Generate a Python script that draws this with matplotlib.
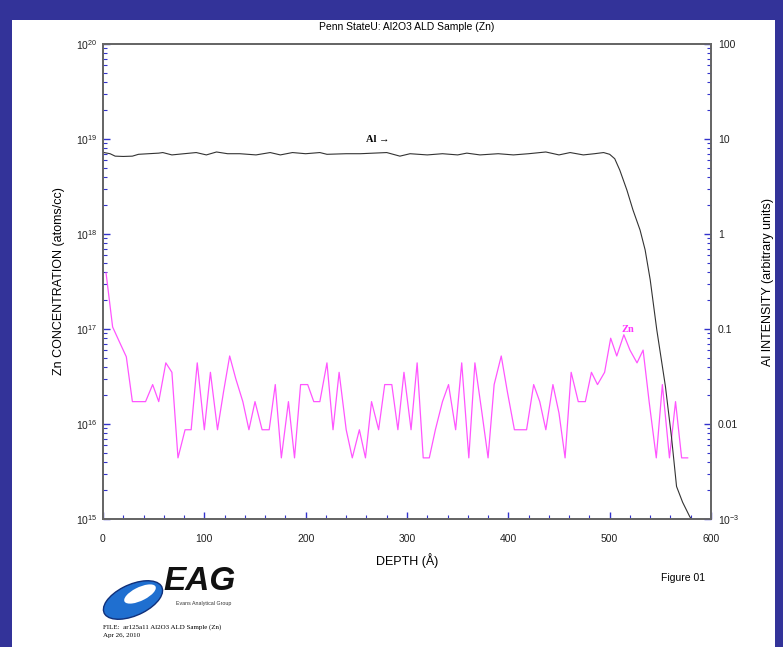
import numpy as np
import matplotlib
matplotlib.use('Agg')
import matplotlib.pyplot as plt
from matplotlib.patches import Rectangle, Ellipse
from matplotlib.ticker import LogLocator, NullFormatter, MultipleLocator

plt.rcParams['font.family'] = ['Liberation Sans', 'DejaVu Sans']
plt.rcParams['mathtext.fontset'] = 'custom'
plt.rcParams['mathtext.rm'] = 'Liberation Sans'
plt.rcParams['mathtext.it'] = 'Liberation Sans:italic'
plt.rcParams['mathtext.bf'] = 'Liberation Sans:bold'

# Zn concentration profile (atoms/cc) vs depth (A)
zn_depth = [3, 9.5, 16, 23, 29, 36, 42, 49, 55, 62, 68, 74, 81, 87, 93, 100,
            106, 113, 119, 125, 131, 138, 144, 150, 157, 164, 170, 176, 183,
            189, 195, 202, 208, 214, 221, 227, 233, 240, 246, 253, 259, 265,
            272, 278, 285, 291, 297, 304, 310, 316, 322, 328, 335, 341, 348,
            354, 361, 367, 374, 380, 386, 393, 399, 406, 412, 418, 425, 431,
            437, 444, 450, 456, 462, 469, 476, 482, 488, 495, 501, 507, 514,
            520, 527, 533, 539, 546, 552, 559, 565, 571, 577]
zn_conc = [3.9e17, 1.05e17, 7.4e16, 5.1e16, 1.72e16, 1.72e16, 1.72e16, 2.6e16,
           1.72e16, 4.4e16, 3.5e16, 4.4e15, 8.7e15, 8.7e15, 4.4e16, 8.7e15,
           3.5e16, 8.7e15, 2.2e16, 5.2e16, 3.0e16, 1.72e16, 8.7e15, 1.72e16,
           8.7e15, 8.7e15, 2.6e16, 4.4e15, 1.72e16, 4.4e15, 2.6e16, 2.6e16,
           1.72e16, 1.72e16, 4.4e16, 8.7e15, 3.5e16, 8.7e15, 4.4e15, 8.7e15,
           4.4e15, 1.72e16, 8.7e15, 2.6e16, 2.6e16, 8.7e15, 3.5e16, 8.7e15,
           4.4e16, 4.4e15, 4.4e15, 8.7e15, 1.72e16, 2.6e16, 8.7e15, 4.4e16,
           4.4e15, 4.4e16, 1.3e16, 4.4e15, 2.6e16, 5.2e16, 2.2e16, 8.7e15,
           8.7e15, 8.7e15, 2.6e16, 1.72e16, 8.7e15, 2.6e16, 1.3e16, 4.4e15,
           3.5e16, 1.72e16, 1.72e16, 3.5e16, 2.6e16, 3.5e16, 8.0e16, 5.2e16,
           8.7e16, 6.0e16, 4.4e16, 6.0e16, 1.7e16, 4.4e15, 2.6e16, 4.4e15,
           1.72e16, 4.4e15, 4.4e15]

# Al intensity (arbitrary units) vs depth (A)
al_depth = [1, 7, 12, 20, 29, 35, 45, 55, 59, 68, 80, 92, 102, 112, 123, 135,
            151, 165, 175, 187, 200, 214, 221, 240, 254, 280, 293, 303, 320,
            335, 350, 359, 372, 390, 405, 420, 437, 450, 461, 474, 485, 494,
            500, 505, 510, 517, 523, 530, 535, 540, 546.5, 555, 561, 566, 572,
            579, 582]
al_int = [7.2, 7.0, 6.6, 6.55, 6.6, 6.9, 7.0, 7.1, 7.2, 6.8, 7.0, 7.2, 6.8,
          7.3, 7.0, 7.0, 6.8, 7.2, 6.8, 7.2, 7.0, 7.2, 6.9, 7.0, 7.0, 7.2,
          6.6, 7.0, 6.8, 7.0, 6.8, 7.1, 6.8, 7.0, 6.8, 7.0, 7.3, 6.8, 7.2,
          6.8, 7.0, 7.2, 6.9, 6.2, 4.7, 2.9, 1.79, 1.1, 0.68, 0.33, 0.098,
          0.025, 0.0073, 0.0022, 0.0015, 0.00106, 0.00095]

x_ticks = [0, 100, 200, 300, 400, 500, 600]
left_ticks = [1e15, 1e16, 1e17, 1e18, 1e19, 1e20]
left_labels = ['$10^{15}$', '$10^{16}$', '$10^{17}$', '$10^{18}$', '$10^{19}$', '$10^{20}$']
right_ticks = [1e-3, 1e-2, 1e-1, 1, 10, 100]
right_labels = ['$10^{-3}$', '0.01', '0.1', '1', '10', '100']

W, H = 783, 647
fig = plt.figure(figsize=(W / 100, H / 100), dpi=100, facecolor='#333399')
# white page inside the blue frame
fig.patches.append(Rectangle((12 / W, 0), (775 - 12) / W, (H - 20) / H,
                             transform=fig.transFigure, facecolor='white',
                             edgecolor='none', zorder=-10))

ax = fig.add_axes([103 / W, (H - 519) / H, (711 - 103) / W, (519 - 44) / H])
ax.patch.set_alpha(0)
ax2 = ax.twinx()

tick_col = '#3333cc'
frame_col = '#666666'

ax.plot(zn_depth, zn_conc, color='#ff55ff', lw=0.9, zorder=3)
ax.set_yscale('log')
ax.set_ylim(1e15, 1e20)
ax.set_xlim(0, 600)

ax2.plot(al_depth, al_int, color='#333333', lw=0.8)
ax2.set_yscale('log')
ax2.set_ylim(1e-3, 100)

ax.set_xticks(x_ticks)
ax.xaxis.set_minor_locator(MultipleLocator(20))
ax.set_yticks(left_ticks)
ax.set_yticklabels(left_labels)
ax.yaxis.set_minor_locator(LogLocator(base=10, subs=np.arange(2, 10), numticks=20))
ax.yaxis.set_minor_formatter(NullFormatter())
ax2.set_yticks(right_ticks)
ax2.set_yticklabels(right_labels)
ax2.yaxis.set_minor_locator(LogLocator(base=10, subs=np.arange(2, 10), numticks=20))
ax2.yaxis.set_minor_formatter(NullFormatter())

for a in (ax, ax2):
    a.tick_params(which='both', direction='in', color=tick_col, labelsize=7.5,
                  labelcolor='#222222', top=False)
    a.tick_params(which='major', length=5, width=1)
    a.tick_params(which='minor', length=3, width=0.8)
    for s in a.spines.values():
        s.set_color(frame_col)
        s.set_linewidth(1.3)
ax.tick_params(axis='y', which='both', right=False, pad=4)
ax.tick_params(axis='x', pad=11)
ax2.tick_params(axis='y', which='both', left=False, pad=5)

ax.set_xlabel('DEPTH (Å)', fontsize=9, labelpad=6)
ax.set_ylabel('Zn CONCENTRATION (atoms/cc)', fontsize=9, labelpad=8)
ax2.set_ylabel('Al INTENSITY (arbitrary units)', fontsize=9, labelpad=16)
ax.set_title('Penn StateU: Al2O3 ALD Sample (Zn)', fontsize=7.5, pad=10)

ax.text(271, 1.0e19, 'Al →', family='Liberation Serif', fontweight='bold',
        fontsize=7.5, ha='center', va='center')
ax.text(518, 1.0e17, 'Zn', family='Liberation Serif', fontweight='bold',
        fontsize=7.5, color='#ff33ff', ha='center', va='center', zorder=4)

# footer: logo, file info, figure number
fig.text(683 / W, 1 - 578 / H, 'Figure 01', fontsize=7.5, ha='center', va='center')
fig.patches.append(Ellipse((133 / W, 1 - 600 / H), 66 / W, 30 / H, angle=32,
                           transform=fig.transFigure, facecolor='#1f6fd0',
                           edgecolor='#10307a', lw=1))
fig.patches.append(Ellipse((140 / W, 1 - 594 / H), 36 / W, 13 / H, angle=32,
                           transform=fig.transFigure, facecolor='white',
                           edgecolor='none'))
fig.text(163 / W, 1 - 582 / H, 'EAG', fontsize=24, fontweight='bold',
         fontstyle='italic', ha='left', va='center', color='#111111')
fig.text(176 / W, 1 - 604 / H, 'Evans Analytical Group', fontsize=3.8,
         ha='left', va='center', color='#333333')
fig.text(103 / W, 1 - 627 / H, 'FILE:  ar125a11 Al2O3 ALD Sample (Zn)',
         family='Liberation Serif', fontsize=5, ha='left', va='center')
fig.text(103 / W, 1 - 636 / H, 'Apr 26, 2010', family='Liberation Serif',
         fontsize=5, ha='left', va='center')

fig.savefig('out.png', dpi=100, facecolor=fig.get_facecolor())
